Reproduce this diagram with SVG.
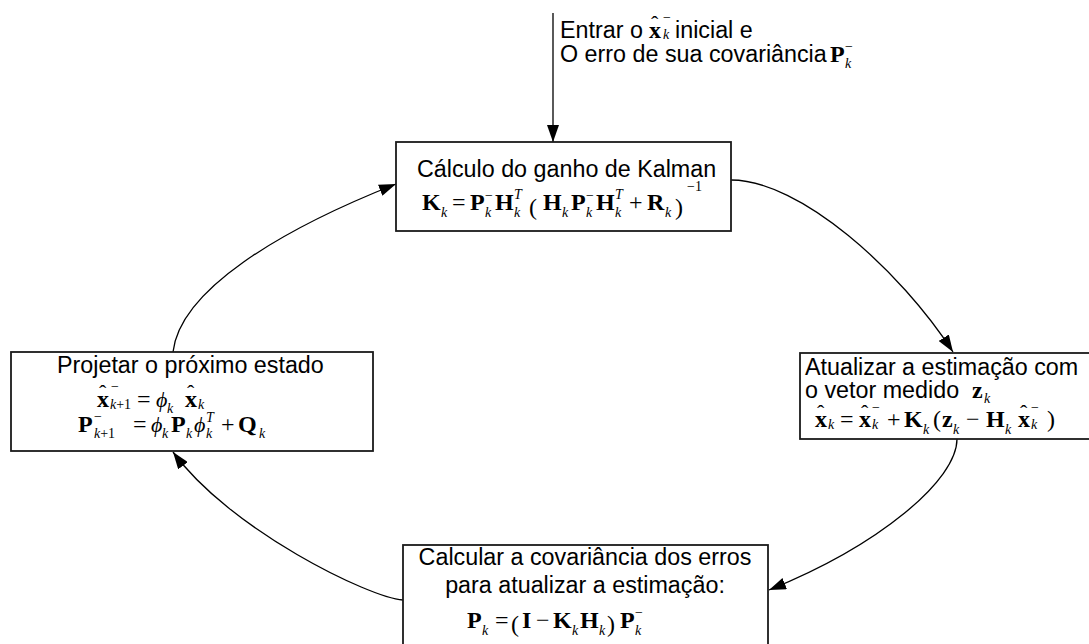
<svg xmlns="http://www.w3.org/2000/svg" width="1089" height="644" viewBox="0 0 1089 644">
<defs>
<style>
.lbl{font-family:"Liberation Sans",Arial,sans-serif;font-size:23.3px;fill:#000}
.mb{font-family:"Liberation Serif","Times New Roman",serif;font-size:24px;font-weight:bold;fill:#000}
.mo{font-family:"Liberation Serif","Times New Roman",serif;font-size:24px;fill:#000}
.mi{font-family:"Liberation Serif","DejaVu Serif","Times New Roman",serif;font-size:22px;font-style:italic;fill:#000}
.hat{font-family:"Liberation Serif","Times New Roman",serif;font-size:22px;fill:#000}
.sb{font-family:"Liberation Serif","Times New Roman",serif;font-size:14px;font-style:italic;fill:#000}
.sp{font-family:"Liberation Serif","Times New Roman",serif;font-size:14px;fill:#000}
.box{fill:#fff;stroke:#1a1a1a;stroke-width:1.8}
.conn{fill:none;stroke:#000;stroke-width:1.3}
</style>
<marker id="ah" markerWidth="17" markerHeight="12" refX="17" refY="6" orient="auto" markerUnits="userSpaceOnUse">
<path d="M0,0 L17,6 L0,12 z" fill="#000"/>
</marker>
</defs>
<rect width="1089" height="644" fill="#fff"/>

<g id="connectors">
<line class="conn" x1="553" y1="13" x2="553" y2="142" marker-end="url(#ah)"/>
<path class="conn" d="M731,180 C800,180 900,270 953,352" marker-end="url(#ah)"/>
<path class="conn" d="M957,439 C957,480 880,545 769,590" marker-end="url(#ah)"/>
<path class="conn" d="M403,600 C370,598 230,530 173,452" marker-end="url(#ah)"/>
<path class="conn" d="M173,352 C180,290 280,230 396,184" marker-end="url(#ah)"/>
</g>

<g id="input-label">
<text class="lbl" x="560" y="38">Entrar o</text>
<text class="mb" x="649" y="38">x</text>
<text class="hat" x="651" y="31">ˆ</text>
<text class="sp" x="663" y="22">−</text>
<text class="sb" x="663" y="39">k</text>
<text class="lbl" x="675" y="38">inicial e</text>
<text class="lbl" x="560" y="62">O erro de sua covariância</text>
<text class="mb" x="830" y="62">P</text>
<text class="sp" x="845" y="51">−</text>
<text class="sb" x="845" y="68">k</text>
</g>

<g id="node-kalman-gain">
<rect class="box" x="396" y="142" width="335" height="89"/>
<text class="lbl" x="417" y="177">Cálculo do ganho de Kalman</text>
<text class="mb" x="422" y="210">K</text>
<text class="sb" x="441" y="217">k</text>
<text class="mo" x="452" y="210">=</text>
<text class="mb" x="470" y="210">P</text>
<text class="sp" x="485" y="200">−</text>
<text class="sb" x="485" y="217">k</text>
<text class="mb" x="495" y="210">H</text>
<text class="sb" x="514" y="199">T</text>
<text class="sb" x="514" y="217">k</text>
<text class="mo" x="529" y="215" font-size="33">(</text>
<text class="mb" x="543" y="210">H</text>
<text class="sb" x="562" y="217">k</text>
<text class="mb" x="571" y="210">P</text>
<text class="sp" x="586" y="200">−</text>
<text class="sb" x="586" y="217">k</text>
<text class="mb" x="596" y="210">H</text>
<text class="sb" x="615" y="199">T</text>
<text class="sb" x="615" y="217">k</text>
<text class="mo" x="629" y="210">+</text>
<text class="mb" x="647" y="210">R</text>
<text class="sb" x="665" y="217">k</text>
<text class="mo" x="675" y="215" font-size="33">)</text>
<text class="sp" x="687" y="191">−1</text>
</g>

<g id="node-update-estimate">
<rect class="box" x="800" y="353" width="300" height="86"/>
<text class="lbl" x="805" y="375">Atualizar a estimação com</text>
<text class="lbl" x="805" y="398">o vetor medido</text>
<text class="mb" x="972" y="398">z</text>
<text class="sb" x="984" y="403">k</text>
<text class="mb" x="815" y="427">x</text>
<text class="hat" x="817" y="420">ˆ</text>
<text class="sb" x="828" y="429">k</text>
<text class="mo" x="840" y="427">=</text>
<text class="mb" x="859" y="427">x</text>
<text class="hat" x="861" y="420">ˆ</text>
<text class="sp" x="872" y="412">−</text>
<text class="sb" x="872" y="429">k</text>
<text class="mo" x="887" y="427">+</text>
<text class="mb" x="904" y="427">K</text>
<text class="sb" x="923" y="434">k</text>
<text class="mo" x="933" y="427">(</text>
<text class="mb" x="942" y="427">z</text>
<text class="sb" x="953" y="434">k</text>
<text class="mo" x="966" y="427">−</text>
<text class="mb" x="986" y="427">H</text>
<text class="sb" x="1005" y="434">k</text>
<text class="mb" x="1018" y="427">x</text>
<text class="hat" x="1020" y="420">ˆ</text>
<text class="sp" x="1031" y="412">−</text>
<text class="sb" x="1031" y="429">k</text>
<text class="mo" x="1047" y="427">)</text>
</g>

<g id="node-error-covariance">
<rect class="box" x="403" y="545" width="365" height="110"/>
<text class="lbl" x="585" y="565" text-anchor="middle">Calcular a covariância dos erros</text>
<text class="lbl" x="585" y="593" text-anchor="middle">para atualizar a estimação:</text>
<text class="mb" x="467" y="628">P</text>
<text class="sb" x="482" y="635">k</text>
<text class="mo" x="495" y="628">=</text>
<text class="mo" x="511" y="632" font-size="30">(</text>
<text class="mb" x="522" y="628">I</text>
<text class="mo" x="536" y="628">−</text>
<text class="mb" x="553" y="628">K</text>
<text class="sb" x="572" y="635">k</text>
<text class="mb" x="580" y="628">H</text>
<text class="sb" x="599" y="635">k</text>
<text class="mo" x="607" y="632" font-size="30">)</text>
<text class="mb" x="620" y="628">P</text>
<text class="sp" x="635" y="617">−</text>
<text class="sb" x="635" y="635">k</text>
</g>

<g id="node-project-state">
<rect class="box" x="11" y="352" width="362" height="99"/>
<text class="lbl" x="57" y="373">Projetar o próximo estado</text>
<text class="mb" x="97" y="407">x</text>
<text class="hat" x="99" y="400">ˆ</text>
<text class="sp" x="111" y="391">−</text>
<text class="sb" x="110" y="409">k<tspan font-style="normal">+1</tspan></text>
<text class="mo" x="137" y="407">=</text>
<text class="mi" x="156" y="407">ϕ</text>
<text class="sb" x="167" y="413">k</text>
<text class="mb" x="185" y="407">x</text>
<text class="hat" x="187" y="400">ˆ</text>
<text class="sb" x="198" y="409">k</text>
<text class="mb" x="78" y="432">P</text>
<text class="sp" x="94" y="421">−</text>
<text class="sb" x="94" y="438">k<tspan font-style="normal">+1</tspan></text>
<text class="mo" x="133" y="432">=</text>
<text class="mi" x="151" y="432">ϕ</text>
<text class="sb" x="162" y="438">k</text>
<text class="mb" x="171" y="432">P</text>
<text class="sb" x="186" y="438">k</text>
<text class="mi" x="194" y="432">ϕ</text>
<text class="sb" x="206" y="422">T</text>
<text class="sb" x="206" y="438">k</text>
<text class="mo" x="221" y="432">+</text>
<text class="mb" x="238" y="432">Q</text>
<text class="sb" x="259" y="438">k</text>
</g>
</svg>
